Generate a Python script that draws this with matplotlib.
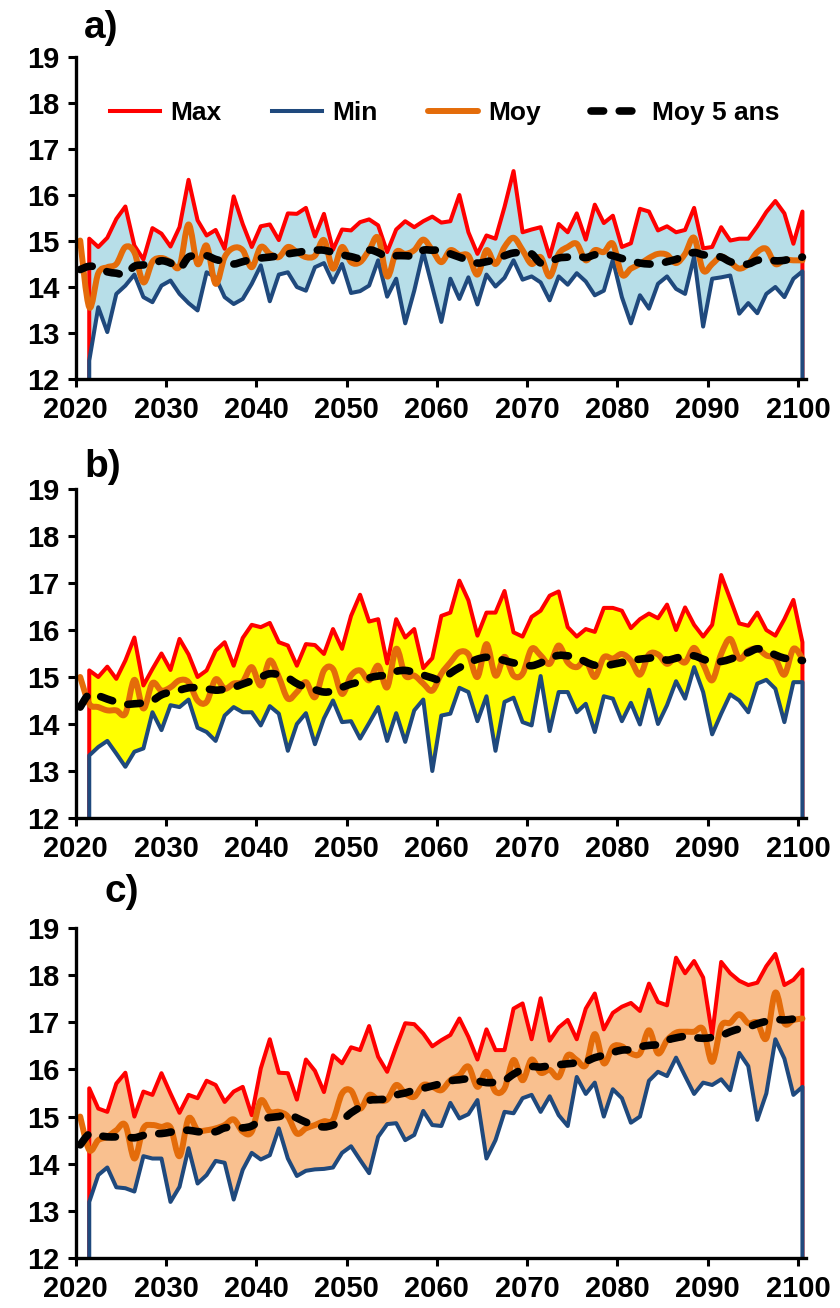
import matplotlib

matplotlib.use("agg")
import matplotlib.pyplot as plt
from matplotlib.path import Path
from matplotlib.patches import PathPatch
import numpy as np

plt.rcParams["font.family"] = ["Liberation Sans", "DejaVu Sans"]
plt.rcParams["font.weight"] = "bold"

YEARS = np.arange(2020, 2101)  # Moy and Moy 5 ans
YEARS_MM = np.arange(2021, 2101)  # Max and Min

# panel a)
max_a = [15.05, 14.87, 15.07, 15.48, 15.75, 14.9, 14.6, 15.28, 15.16, 14.88,
         15.3, 16.33, 15.45, 15.12, 15.24, 14.83, 15.97, 15.37, 14.87, 15.32,
         15.36, 15.02, 15.6, 15.59, 15.72, 15.1, 15.59, 14.81, 15.25, 15.23,
         15.41, 15.47, 15.34, 14.76, 15.25, 15.43, 15.3, 15.43, 15.53, 15.4,
         15.43, 16.0, 15.19, 14.72, 15.12, 15.05, 15.74, 16.52, 15.19, 15.25,
         15.3, 14.66, 15.37, 15.19, 15.6, 15.03, 15.79, 15.39, 15.55, 14.87,
         14.95, 15.7, 15.64, 15.23, 15.32, 15.19, 15.24, 15.72, 14.84, 14.87,
         15.3, 15.01, 15.05, 15.05, 15.32, 15.63, 15.87, 15.6, 14.94, 15.64]
min_a = [12.4, 13.56, 13.02, 13.85, 14.03, 14.27, 13.78, 13.67, 14.03, 14.14,
         13.85, 13.65, 13.49, 14.32, 14.21, 13.78, 13.63, 13.74, 14.07, 14.47,
         13.69, 14.27, 14.32, 14.0, 13.92, 14.43, 14.52, 14.1, 14.5, 13.87,
         13.91, 14.03, 14.58, 13.79, 14.18, 13.21, 13.92, 14.76, 14.0, 13.24,
         14.18, 13.74, 14.21, 13.62, 14.27, 14.01, 14.2, 14.58, 14.16, 14.23,
         14.1, 13.71, 14.23, 14.05, 14.3, 14.12, 13.82, 13.92, 14.59, 13.78,
         13.21, 13.82, 13.53, 14.07, 14.23, 13.96, 13.85, 14.66, 13.14, 14.18,
         14.21, 14.25, 13.42, 13.65, 13.43, 13.85, 14.0, 13.78, 14.18, 14.34]
moy_a = [15.01, 13.56, 14.3, 14.43, 14.5, 14.87, 14.75, 14.1, 14.55, 14.63,
         14.55, 14.45, 15.36, 14.5, 14.9, 14.07, 14.65, 14.85, 14.8, 14.43,
         14.87, 14.72, 14.65, 14.87, 14.76, 14.65, 14.68, 15.02, 14.4, 14.87,
         14.54, 14.54, 14.8, 15.07, 14.23, 14.76, 14.72, 14.8, 15.03, 14.8,
         14.54, 14.8, 14.7, 14.68, 14.27, 14.8, 14.5, 14.87, 15.07, 14.8,
         14.5, 14.65, 14.23, 14.72, 14.87, 14.94, 14.58, 14.8, 14.76, 14.94,
         14.27, 14.4, 14.5, 14.63, 14.72, 14.7, 14.52, 14.72, 15.07, 14.36,
         14.5, 14.66, 14.54, 14.4, 14.5, 14.76, 14.83, 14.5, 14.59, 14.58, 14.58]
moy5_a = [14.38, 14.45, 14.42, 14.33, 14.3, 14.27, 14.45, 14.48, 14.5, 14.57,
          14.52, 14.4, 14.65, 14.67, 14.68, 14.6, 14.55, 14.5, 14.55, 14.6,
          14.63, 14.65, 14.68, 14.72, 14.75, 14.78, 14.8, 14.8, 14.75, 14.7,
          14.66, 14.63, 14.8, 14.75, 14.65, 14.68, 14.68, 14.68, 14.8, 14.8,
          14.8, 14.72, 14.65, 14.58, 14.52, 14.55, 14.6, 14.68, 14.74, 14.74,
          14.72, 14.52, 14.55, 14.63, 14.65, 14.68, 14.64, 14.7, 14.72, 14.68,
          14.62, 14.57, 14.52, 14.5, 14.5, 14.55, 14.6, 14.68, 14.75, 14.7,
          14.68, 14.65, 14.55, 14.5, 14.5, 14.58, 14.6, 14.57, 14.58, 14.63, 14.65]

# panel b)
max_b = [15.14, 15.0, 15.22, 14.96, 15.35, 15.84, 14.82, 15.17, 15.5, 15.15,
         15.81, 15.48, 15.0, 15.14, 15.56, 15.74, 15.24, 15.83, 16.11, 16.06,
         16.15, 15.74, 15.67, 15.24, 15.7, 15.68, 15.49, 16.02, 15.6, 16.3,
         16.75, 16.18, 16.23, 15.29, 16.23, 15.84, 16.02, 15.19, 15.4, 16.3,
         16.37, 17.05, 16.63, 15.88, 16.37, 16.37, 16.83, 15.95, 15.86, 16.28,
         16.41, 16.73, 16.82, 16.06, 15.86, 16.02, 15.96, 16.47, 16.47, 16.41,
         16.04, 16.23, 16.35, 16.25, 16.54, 16.0, 16.48, 16.11, 15.86, 16.11,
         17.17, 16.66, 16.14, 16.09, 16.37, 16.0, 15.88, 16.23, 16.64, 15.74]
min_b = [13.33, 13.51, 13.64, 13.37, 13.09, 13.41, 13.48, 14.25, 13.87, 14.4,
         14.36, 14.52, 13.92, 13.83, 13.64, 14.18, 14.36, 14.25, 14.25, 13.97,
         14.38, 14.22, 13.43, 14.0, 14.23, 13.57, 14.12, 14.5, 14.04, 14.06,
         13.69, 14.02, 14.36, 13.64, 14.23, 13.62, 14.29, 14.52, 13.0, 14.18,
         14.22, 14.77, 14.68, 14.06, 14.59, 13.43, 14.47, 14.56, 14.04, 13.97,
         15.02, 13.85, 14.68, 14.68, 14.25, 14.43, 13.83, 14.59, 14.54, 14.06,
         14.45, 13.99, 14.73, 14.0, 14.4, 14.91, 14.54, 15.21, 14.68, 13.78,
         14.22, 14.63, 14.5, 14.25, 14.86, 14.94, 14.75, 14.04, 14.89, 14.89]
moy_b = [15.0, 14.43, 14.36, 14.29, 14.29, 14.22, 14.94, 14.33, 14.87, 14.71,
         14.78, 14.93, 14.89, 14.5, 14.47, 14.95, 14.75, 14.86, 14.9, 15.21,
         14.82, 15.35, 15.0, 14.54, 14.68, 14.89, 14.57, 15.14, 15.17, 14.64,
         15.03, 15.14, 14.93, 15.24, 14.78, 15.6, 15.03, 15.03, 14.86, 14.71,
         15.07, 15.31, 15.53, 15.48, 15.0, 15.7, 15.03, 15.43, 15.03, 15.07,
         15.6, 15.46, 15.28, 15.67, 15.31, 15.21, 15.35, 15.0, 15.42, 15.39,
         15.49, 15.35, 15.05, 15.48, 15.48, 15.28, 15.42, 15.31, 15.62, 15.28,
         14.93, 15.49, 15.81, 15.39, 15.56, 15.6, 15.46, 15.39, 15.05, 15.6, 15.39]
moy5_b = [14.36, 14.64, 14.6, 14.53, 14.47, 14.42, 14.43, 14.45, 14.5, 14.62,
          14.68, 14.72, 14.77, 14.77, 14.75, 14.72, 14.74, 14.78, 14.85, 14.92,
          15.0, 15.07, 15.05, 14.98, 14.86, 14.78, 14.73, 14.68, 14.7, 14.78,
          14.85, 14.9, 14.98, 15.02, 15.04, 15.12, 15.14, 15.1, 15.04, 14.98,
          14.93, 15.08, 15.2, 15.3, 15.38, 15.42, 15.4, 15.35, 15.3, 15.27,
          15.24, 15.3, 15.4, 15.46, 15.45, 15.42, 15.32, 15.25, 15.24, 15.27,
          15.31, 15.35, 15.38, 15.4, 15.42, 15.36, 15.4, 15.45, 15.45, 15.38,
          15.32, 15.33, 15.38, 15.45, 15.52, 15.6, 15.55, 15.47, 15.4, 15.38, 15.35]

# panel c)
max_c = [15.6, 15.17, 15.1, 15.7, 15.93, 15.0, 15.53, 15.46, 15.92, 15.49,
         15.08, 15.46, 15.39, 15.76, 15.67, 15.31, 15.53, 15.63, 15.03, 16.02,
         16.64, 15.93, 15.92, 15.36, 16.21, 15.97, 15.52, 16.3, 16.13, 16.47,
         16.41, 16.92, 16.27, 15.95, 16.48, 16.98, 16.96, 16.76, 16.49, 16.62,
         16.73, 17.08, 16.69, 16.21, 16.85, 16.41, 16.41, 17.29, 17.4, 16.64,
         17.51, 16.61, 16.89, 17.05, 16.64, 17.29, 17.61, 16.85, 17.2, 17.33,
         17.41, 17.24, 17.82, 17.43, 17.36, 18.37, 18.04, 18.3, 17.95, 16.73,
         18.28, 18.04, 17.88, 17.79, 17.84, 18.19, 18.45, 17.79, 17.9, 18.12]
min_c = [13.19, 13.76, 13.92, 13.5, 13.48, 13.41, 14.16, 14.11, 14.11, 13.19,
         13.51, 14.33, 13.58, 13.76, 14.06, 14.02, 13.24, 13.87, 14.23, 14.09,
         14.18, 14.75, 14.11, 13.74, 13.85, 13.88, 13.89, 13.92, 14.23, 14.37,
         14.08, 13.8, 14.57, 14.84, 14.86, 14.5, 14.61, 15.12, 14.82, 14.8,
         15.29, 14.96, 15.05, 15.35, 14.11, 14.5, 15.1, 15.07, 15.39, 15.46,
         15.1, 15.43, 15.03, 14.8, 15.84, 15.48, 15.72, 15.0, 15.58, 15.39,
         14.87, 15.0, 15.76, 15.95, 15.86, 16.25, 15.86, 15.48, 15.72, 15.67,
         15.79, 15.56, 16.35, 16.07, 14.93, 15.49, 16.64, 16.23, 15.46, 15.63]
moy_c = [15.0, 14.29, 14.5, 14.57, 14.71, 14.82, 14.11, 14.75, 14.82, 14.78,
         14.77, 14.16, 14.96, 14.71, 14.71, 14.75, 14.82, 14.94, 14.68, 14.68,
         15.34, 15.1, 15.1, 15.0, 14.64, 14.75, 14.82, 14.9, 14.93, 15.49,
         15.55, 15.17, 15.46, 15.36, 15.36, 15.67, 15.49, 15.42, 15.67, 15.63,
         15.56, 15.77, 15.88, 16.06, 15.63, 15.95, 15.53, 15.6, 16.2, 15.77,
         16.21, 15.93, 15.99, 15.84, 16.3, 16.2, 16.09, 16.75, 16.13, 16.48,
         16.49, 16.34, 16.34, 16.83, 16.34, 16.62, 16.78, 16.8, 16.8, 16.85,
         16.16, 16.92, 16.99, 17.17, 16.98, 16.99, 16.66, 17.63, 16.98, 17.05, 17.08]
moy5_c = [14.4, 14.63, 14.6, 14.57, 14.57, 14.57, 14.55, 14.6, 14.64, 14.64,
          14.67, 14.7, 14.71, 14.68, 14.67, 14.68, 14.76, 14.77, 14.76, 14.8,
          14.93, 14.98, 15.0, 15.05, 14.97, 14.88, 14.82, 14.78, 14.82, 14.92,
          15.08, 15.2, 15.34, 15.36, 15.38, 15.46, 15.5, 15.56, 15.6, 15.65,
          15.7, 15.76, 15.78, 15.8, 15.76, 15.72, 15.73, 15.77, 15.9, 16.0,
          16.06, 16.05, 16.08, 16.1, 16.12, 16.14, 16.17, 16.25, 16.3, 16.36,
          16.41, 16.42, 16.48, 16.51, 16.53, 16.62, 16.67, 16.7, 16.68, 16.66,
          16.68, 16.72, 16.8, 16.86, 16.9, 16.97, 17.02, 17.06, 17.05, 17.07, 17.1]

LABELS = ["Max", "Min", "Moy", "Moy 5 ans"]
PANEL_NAMES = ["a)", "b)", "c)"]
FILL_COLORS = ["#b7dee8", "#ffff00", "#f9c08f"]

YLO, YHI = 12, 19
RED = "#ff0000"
BLUE = "#1f497d"
ORANGE = "#e46c0a"
LW_MM = 2.9
LW_MOY = 4.3
LW_5 = 5.5
DASH_5 = (1.65, 2.05)


def smooth_path(x, y):
    # excel-like "smoothed line": cubic bezier through every point
    pts = np.column_stack([x, y]).astype(float)
    n = len(pts)
    verts = [pts[0]]
    codes = [Path.MOVETO]
    for i in range(n - 1):
        p0 = pts[max(i - 1, 0)]
        p1 = pts[i]
        p2 = pts[i + 1]
        p3 = pts[min(i + 2, n - 1)]
        verts += [p1 + (p2 - p0) / 6.0, p2 - (p3 - p1) / 6.0, p2]
        codes += [Path.CURVE4] * 3
    return Path(verts, codes)


def draw_panel(ax, mx, mn, moy, moy5, fill_color):
    x_mm = YEARS_MM + 0.5
    x_all = YEARS + 0.5
    mx = np.asarray(mx)
    mn = np.asarray(mn)
    # area between the curves, Excel style: Max area then white Min area on top
    ax.fill_between(x_mm, YLO, mx, color=fill_color, lw=0, zorder=1)
    ax.plot(np.r_[x_mm[0], x_mm, x_mm[-1]], np.r_[YLO, mx, YLO], c=RED, lw=LW_MM,
            solid_joinstyle="round", zorder=2)
    ax.fill_between(x_mm, YLO, mn, color="white", lw=0, zorder=3)
    ax.plot(np.r_[x_mm[0], x_mm, x_mm[-1]], np.r_[YLO, mn, YLO], c=BLUE, lw=LW_MM,
            solid_joinstyle="round", zorder=4)
    ax.add_patch(PathPatch(smooth_path(x_all, moy), fill=False, ec=ORANGE, lw=LW_MOY,
                           capstyle="round", joinstyle="round", zorder=5))
    ax.add_patch(PathPatch(smooth_path(x_all, moy5), fill=False, ec="black", lw=LW_5,
                           linestyle=(0, DASH_5), capstyle="round", joinstyle="round",
                           zorder=6))

    ax.set_xlim(2020, 2100.95)
    ax.set_ylim(YLO, YHI)
    ax.set_xticks(np.arange(2020, 2101, 10))
    ax.set_yticks(np.arange(YLO, YHI + 1, 1))
    ax.tick_params(axis="both", direction="out", length=6, width=2.2, labelsize=21, pad=6)
    ax.spines["top"].set_visible(False)
    ax.spines["right"].set_visible(False)
    ax.spines["left"].set_linewidth(2.4)
    ax.spines["bottom"].set_linewidth(2.4)
    ax.spines["left"].set_zorder(10)
    ax.spines["bottom"].set_zorder(10)
    for lab in ax.get_xticklabels() + ax.get_yticklabels():
        lab.set_fontweight("bold")


def main():
    fig = plt.figure(figsize=(8.4, 13.08), dpi=100)
    W, H = 840.0, 1308.0
    left, right = 75.7, 806.5
    # (y of 12, y of 19) in pixels, from top
    boxes = [(379, 57), (818, 489), (1258, 928)]
    data = [(max_a, min_a, moy_a, moy5_a), (max_b, min_b, moy_b, moy5_b),
            (max_c, min_c, moy_c, moy5_c)]
    label_pos = [(84, 10), (84, 449), (104, 874)]
    axes = []
    for i in range(3):
        y12, y19 = boxes[i]
        ax = fig.add_axes([left / W, 1 - y12 / H, (right - left) / W, (y12 - y19) / H])
        draw_panel(ax, *data[i], FILL_COLORS[i])
        axes.append(ax)
        lx, ly = label_pos[i]
        fig.text(lx / W, 1 - ly / H, PANEL_NAMES[i], fontsize=28, fontweight="bold", va="top")

    # legend proxies (same styles as the drawn series)
    ax = axes[0]
    h1, = ax.plot([], [], c=RED, lw=LW_MM)
    h2, = ax.plot([], [], c=BLUE, lw=LW_MM)
    h3, = ax.plot([], [], c=ORANGE, lw=LW_MOY, solid_capstyle="round")
    h4, = ax.plot([], [], c="black", lw=LW_5, dashes=DASH_5, dash_capstyle="round")
    leg = ax.legend([h1, h2, h3, h4], LABELS, loc="center", bbox_to_anchor=(0.505, 0.826),
                    ncol=4, frameon=False, fontsize=19, handlelength=1.9, handletextpad=0.4,
                    columnspacing=1.9, borderaxespad=0)
    for t in leg.get_texts():
        t.set_fontweight("bold")

    fig.savefig("out.png", dpi=100)
    plt.close(fig)


if __name__ == "__main__":
    main()
